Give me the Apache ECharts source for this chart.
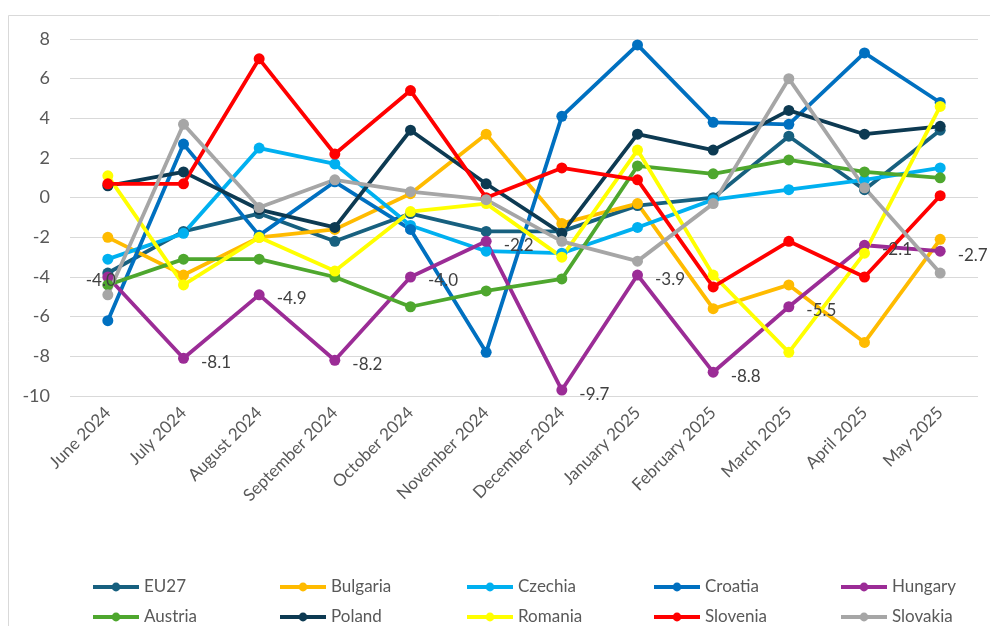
<!DOCTYPE html>
<html lang="en">
<head>
  <meta charset="UTF-8">
  <title>Monthly change</title>
  <script src="https://cdn.jsdelivr.net/npm/echarts@6/dist/echarts.min.js"></script>
  <style>
    html, body { margin: 0; padding: 0; background: #fff; }
    #main { width: 990px; height: 626px; }
  </style>
</head>
<body>
<div id="main"></div>
<script type="text/javascript">
  var months = ['June 2024', 'July 2024', 'August 2024', 'September 2024', 'October 2024', 'November 2024',
    'December 2024', 'January 2025', 'February 2025', 'March 2025', 'April 2025', 'May 2025'];

  var eu27     = [-3.8, -1.7, -0.8, -2.2, -0.8, -1.7, -1.7, -0.4, 0.0, 3.1, 0.4, 3.4];
  var bulgaria = [-2.0, -3.9, -2.0, -1.6, 0.2, 3.2, -1.3, -0.3, -5.6, -4.4, -7.3, -2.1];
  var czechia  = [-3.1, -1.8, 2.5, 1.7, -1.4, -2.7, -2.8, -1.5, -0.1, 0.4, 0.9, 1.5];
  var croatia  = [-6.2, 2.7, -1.9, 0.8, -1.6, -7.8, 4.1, 7.7, 3.8, 3.7, 7.3, 4.8];
  var hungary  = [-4.0, -8.1, -4.9, -8.2, -4.0, -2.2, -9.7, -3.9, -8.8, -5.5, -2.4, -2.7];
  var austria  = [-4.4, -3.1, -3.1, -4.0, -5.5, -4.7, -4.1, 1.6, 1.2, 1.9, 1.3, 1.0];
  var poland   = [0.6, 1.3, -0.6, -1.5, 3.4, 0.7, -1.8, 3.2, 2.4, 4.4, 3.2, 3.6];
  var romania  = [1.1, -4.4, -2.0, -3.7, -0.7, -0.3, -3.0, 2.4, -3.9, -7.8, -2.8, 4.6];
  var slovenia = [0.7, 0.7, 7.0, 2.2, 5.4, 0.0, 1.5, 0.9, -4.5, -2.2, -4.0, 0.1];
  var slovakia = [-4.9, 3.7, -0.5, 0.9, 0.3, -0.1, -2.2, -3.2, -0.3, 6.0, 0.5, -3.8];

  // labels printed next to the Hungary points (as shown in the source chart)
  var hungaryLabels = ['-4.0', '-8.1', '-4.9', '-8.2', '-4.0', '-2.2', '-9.7', '-3.9', '-8.8', '-5.5', '-2.1', '-2.7'];

  var seriesList = [
    { name: 'EU27', data: eu27, color: '#17607f' },
    { name: 'Bulgaria', data: bulgaria, color: '#ffbb00' },
    { name: 'Czechia', data: czechia, color: '#00b0f0' },
    { name: 'Croatia', data: croatia, color: '#0070c0' },
    { name: 'Hungary', data: hungary, color: '#9b2c96' },
    { name: 'Austria', data: austria, color: '#4ea72e' },
    { name: 'Poland', data: poland, color: '#0d3a52' },
    { name: 'Romania', data: romania, color: '#ffff00' },
    { name: 'Slovenia', data: slovenia, color: '#ff0000' },
    { name: 'Slovakia', data: slovakia, color: '#a6a6a6' }
  ];

  var font = 'Lato, "Open Sans", sans-serif';

  var myChart = echarts.init(document.getElementById('main'));

  var series = seriesList.map(function (s) {
    return {
      name: s.name,
      type: 'line',
      data: s.data,
      color: s.color,
      symbol: 'circle',
      symbolSize: 11,
      showAllSymbol: true,
      lineStyle: { width: 3.8, color: s.color },
      itemStyle: { color: s.color },
      emphasis: { disabled: true }
    };
  });

  // Hungary value labels on their own layer so they sit above all lines
  series.push({
    name: 'Hungary labels',
    type: 'line',
    z: 5,
    silent: true,
    symbol: 'circle',
    symbolSize: 1,
    showAllSymbol: true,
    itemStyle: { color: 'rgba(0,0,0,0)' },
    lineStyle: { width: 0, color: 'rgba(0,0,0,0)' },
    data: hungary.map(function (v, i) {
      var d = { value: v };
      if (i === 0) {
        d.label = { position: 'inside', offset: [-7, 4] };
      }
      return d;
    }),
    label: {
      show: true,
      position: 'right',
      distance: 17,
      offset: [0, 4],
      color: '#404040',
      fontSize: 17,
      fontFamily: font,
      formatter: function (p) { return hungaryLabels[p.dataIndex]; }
    }
  });

  var legendBase = {
    left: 86,
    width: 960,
    itemWidth: 46,
    itemHeight: 11,
    itemGap: 24,
    lineStyle: { width: 4 },
    textStyle: {
      color: '#595959',
      fontSize: 17,
      fontFamily: font,
      width: 110,
      height: 22,
      lineHeight: 22,
      overflow: 'truncate'
    }
  };
  var names = seriesList.map(function (s) { return s.name; });

  var option = {
    backgroundColor: '#fff',
    animation: false,
    graphic: [{
      type: 'rect',
      shape: { x: 8.5, y: 15.5, width: 1000, height: 700 },
      style: { fill: 'none', stroke: '#d9d9d9', lineWidth: 1 },
      silent: true,
      z: -1
    }],
    grid: { left: 70, right: 12, top: 39, bottom: 230 },
    legend: [
      Object.assign({}, legendBase, { top: 571, data: names.slice(0, 5) }),
      Object.assign({}, legendBase, { top: 601, data: names.slice(5) })
    ],
    xAxis: {
      type: 'category',
      data: months,
      boundaryGap: true,
      axisLine: { show: false },
      axisTick: { show: false },
      axisLabel: {
        rotate: 45,
        interval: 0,
        margin: 14,
        color: '#595959',
        fontSize: 17,
        fontFamily: font
      }
    },
    yAxis: {
      type: 'value',
      min: -10,
      max: 8,
      interval: 2,
      axisLine: { show: false },
      axisTick: { show: false },
      splitLine: { lineStyle: { color: '#d9d9d9', width: 1 } },
      axisLabel: {
        margin: 20,
        color: '#595959',
        fontSize: 18,
        fontFamily: font
      }
    },
    series: series
  };

  myChart.setOption(option);
</script>
</body>
</html>
